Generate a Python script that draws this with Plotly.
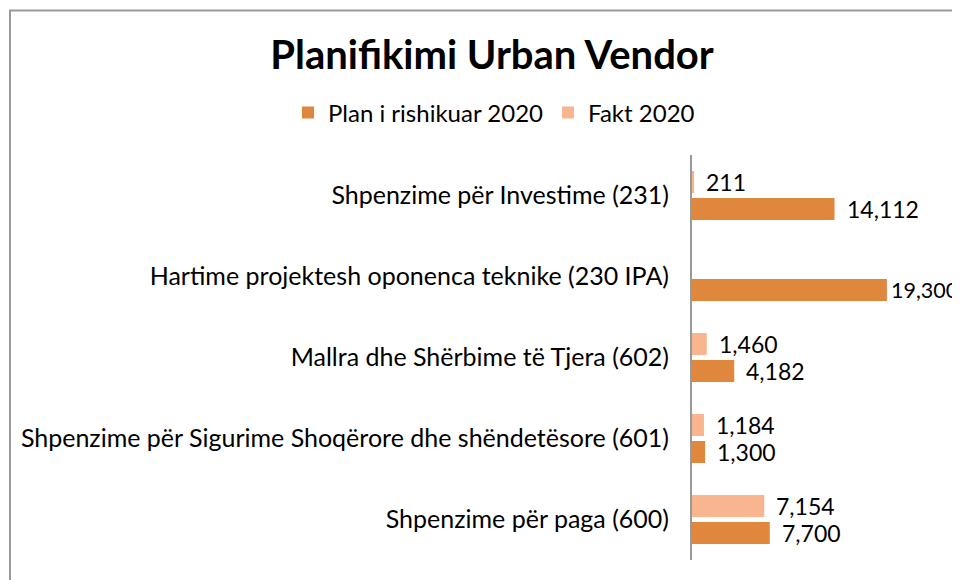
import plotly.graph_objects as go

categories = [
    "Shpenzime për Investime (231)",
    "Hartime projektesh oponenca teknike (230 IPA)",
    "Mallra dhe Shërbime të Tjera (602)",
    "Shpenzime për Sigurime Shoqërore dhe shëndetësore (601)",
    "Shpenzime për paga (600)",
]
plan_2020 = [14112, 19300, 4182, 1300, 7700]
fakt_2020 = [211, None, 1460, 1184, 7154]

series_names = ["Plan i rishikuar 2020", "Fakt 2020"]
PLAN_COLOR = "#DF873D"
FAKT_COLOR = "#F8B590"
FONT = "Lato, Carlito, 'Liberation Sans', sans-serif"

W, H = 960, 580
L, R, T, B = 684, 0, 147, 28
pw = W - L - R
ph = H - T - B
x_max = pw / 0.0101

fig = go.Figure()
fig.add_trace(go.Bar(
    y=categories, x=fakt_2020, orientation="h", name=series_names[1],
    marker=dict(color=FAKT_COLOR, line=dict(width=0)), legendrank=2,
))
fig.add_trace(go.Bar(
    y=categories, x=plan_2020, orientation="h", name=series_names[0],
    marker=dict(color=PLAN_COLOR, line=dict(width=0)), legendrank=1,
))

annotations = []
for cat, v in zip(categories, fakt_2020):
    if v is None:
        continue
    annotations.append(dict(x=v, y=cat, xref="x", yref="y", text=f"{v:,}",
                            showarrow=False, xanchor="left", yanchor="middle",
                            xshift=10, yshift=13.5,
                            font=dict(family=FONT, size=23, color="#000")))
for cat, v in zip(categories, plan_2020):
    near_edge = v > 0.68 * x_max
    annotations.append(dict(x=v, y=cat, xref="x", yref="y", text=f"{v:,}",
                            showarrow=False, xanchor="left", yanchor="middle",
                            xshift=2 if near_edge else 10, yshift=-13.5,
                            font=dict(family=FONT, size=21.5 if near_edge else 23,
                                      color="#000")))

shapes = [dict(type="rect", xref="paper", yref="paper",
               x0=(2 - L) / pw, x1=1.2, y0=-0.2, y1=1 + (T - 2.5) / ph,
               line=dict(color="#999999", width=2), fillcolor="rgba(0,0,0,0)",
               layer="below")]

fig.update_layout(
    width=W, height=H,
    margin=dict(l=L, r=R, t=T, b=B, pad=0, autoexpand=False),
    paper_bgcolor="white", plot_bgcolor="white",
    barmode="group", bargap=0.333, bargroupgap=0.185,
    title=dict(text="<b>Planifikimi Urban Vendor</b>", x=484 / W, xref="container",
               xanchor="center", y=1 - 47 / H, yref="container", yanchor="middle",
               font=dict(family=FONT, size=40, color="#000")),
    legend=dict(orientation="h", xref="paper", yref="container",
                x=(486 - L) / pw, xanchor="center", y=1 - 105 / H, yanchor="middle",
                font=dict(family=FONT, size=24, color="#000"),
                traceorder="normal", itemclick=False),
    xaxis=dict(range=[0, x_max], visible=False, fixedrange=True,
               automargin=False),
    yaxis=dict(autorange=False, range=[4.5, -0.5], type="category",
               categoryorder="array", categoryarray=categories,
               showline=True, linecolor="#999999", linewidth=2,
               ticks="", ticklabelstandoff=16, automargin=False,
               tickfont=dict(family=FONT, size=25, color="#000"),
               showgrid=False, zeroline=False),
    annotations=annotations,
    shapes=shapes,
    font=dict(family=FONT),
)

fig.write_html("out.html")
